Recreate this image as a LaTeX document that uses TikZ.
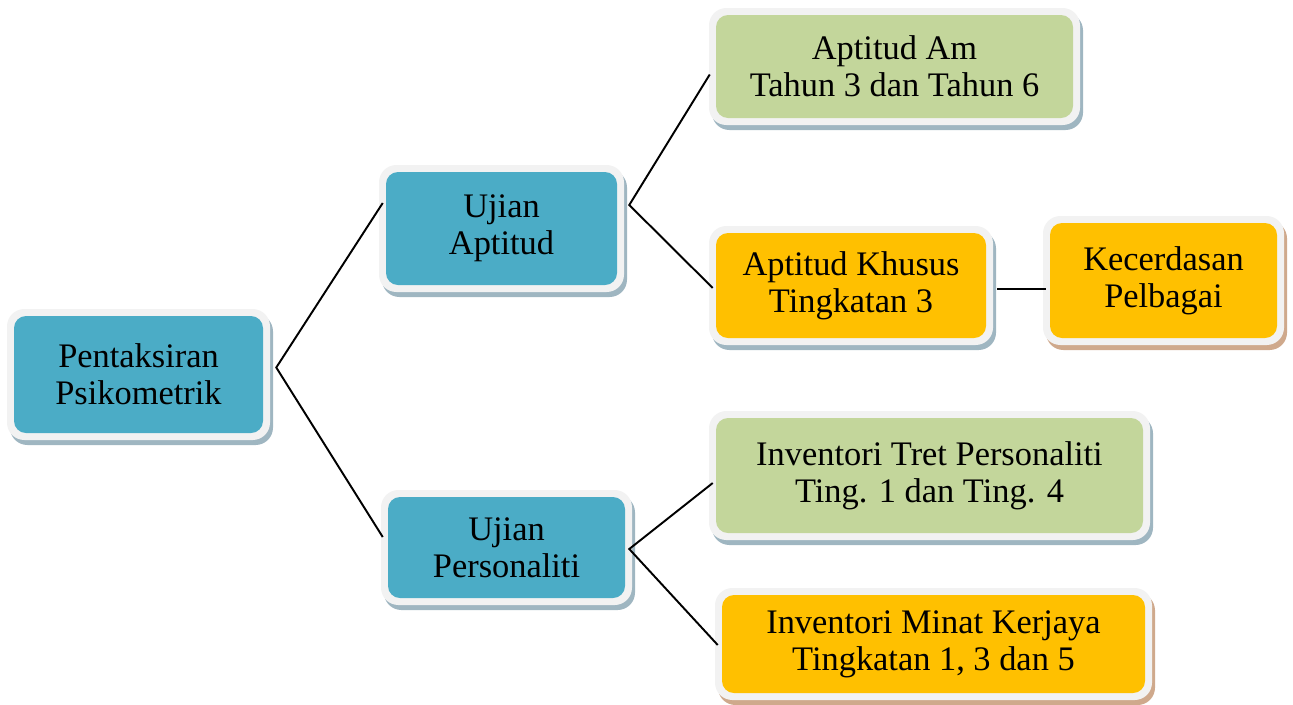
\documentclass[tikz,border=0pt]{standalone}
\usepackage{fontspec}
\setmainfont{Liberation Serif}
\definecolor{teal}{HTML}{4BACC6}
\definecolor{lgreen}{HTML}{C3D69B}
\definecolor{amber}{HTML}{FFC000}
\definecolor{framec}{HTML}{F2F2F2}
\definecolor{shblue}{HTML}{9FB6C1}
\definecolor{shbrown}{HTML}{CFA98C}
\tikzset{
  inbox/.style={rounded corners=9pt, inner sep=0pt, align=center,
    font=\fontsize{25.8}{27.8}\selectfont, text=black},
  conn/.style={line width=1.45pt, black}
}
% name, x1, y1, x2, y2 (inner box, px), fill, shadow, text
\newcommand\pbox[8]{%
  \fill[#7, rounded corners=13pt] ({#2-7+3},{#3-7+5}) rectangle ({#4+7+3},{#5+7+5});
  \fill[framec, rounded corners=13pt] ({#2-7},{#3-7}) rectangle ({#4+7},{#5+7});
  \node[inbox, fill=#6, minimum width={(#4-#2)*0.75pt}, minimum height={(#5-#3)*0.75pt}]
    (#1) at ({(#2+#4)/2},{(#3+#5)/2}) {#8};
}
\begin{document}
\begin{tikzpicture}[x=0.75pt, y=-0.75pt]
\useasboundingbox (0,0) rectangle (1293,704);
\pbox{pk}{14}{316}{263}{433}{teal}{shblue}{Pentaksiran\\Psikometrik}
\pbox{ua}{386}{172}{617}{285}{teal}{shblue}{Ujian\\Aptitud}
\pbox{up}{388}{497}{625}{598}{teal}{shblue}{Ujian\\Personaliti}
\pbox{am}{716}{15}{1073}{118}{lgreen}{shblue}{Aptitud Am\\Tahun 3 dan Tahun 6}
\pbox{ak}{716}{233}{986}{338}{amber}{shblue}{Aptitud Khusus\\Tingkatan 3}
\pbox{kc}{1050}{223}{1277}{338}{amber}{shbrown}{Kecerdasan\\Pelbagai}
\pbox{it}{716}{418}{1143}{533}{lgreen}{shblue}{Inventori Tret Personaliti\\Ting. 1 dan Ting. 4}
\pbox{im}{722}{595}{1145}{693}{amber}{shbrown}{Inventori Minat Kerjaya\\Tingkatan 1, 3 dan 5}
\coordinate (pkv) at ([shift={(13,-7)}]pk.east);
\coordinate (uav) at ([shift={(12,-23.5)}]ua.east);
\coordinate (upv) at ([shift={(4,1.5)}]up.east);
\draw[conn] ([shift={(-3,-25.5)}]ua.west) -- (pkv) -- ([shift={(-5,-10.5)}]up.west);
\draw[conn] ([shift={(-6,8)}]am.west) -- (uav) -- ([shift={(-3,2.5)}]ak.west);
\draw[conn] ([shift={(11,3.5)}]ak.east) -- ([shift={(-4,8.5)}]kc.west);
\draw[conn] ([shift={(-3,7.5)}]it.west) -- (upv) -- ([shift={(-4,1)}]im.west);
\end{tikzpicture}
\end{document}
